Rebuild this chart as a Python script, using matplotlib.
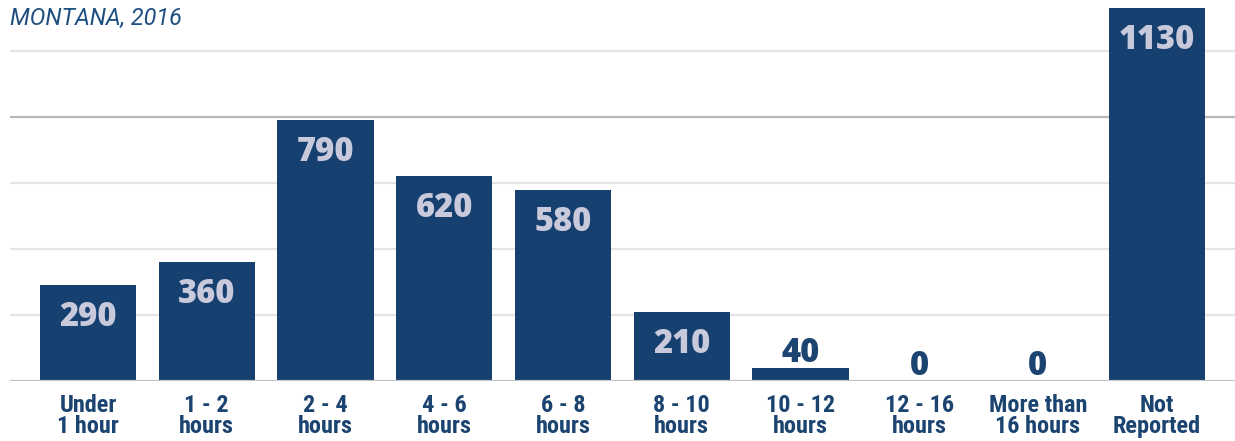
import matplotlib.pyplot as plt
import numpy as np

categories = ["Under\n1 hour", "1 - 2\nhours", "2 - 4\nhours", "4 - 6\nhours", "6 - 8\nhours",
              "8 - 10\nhours", "10 - 12\nhours", "12 - 16\nhours", "More than\n16 hours", "Not\nReported"]
values = [290, 360, 790, 620, 580, 210, 40, 0, 0, 1130]
grid_levels = [200, 400, 600, 800, 1000]

BAR = "#16406f"
LABEL_IN = "#c9c9dc"
TEXT = "#1b4470"

narrow = ["Roboto Condensed", "Archivo Narrow", "Fira Sans Condensed", "DejaVu Sans"]
heavy = ["Open Sans", "DejaVu Sans"]

fig = plt.figure(figsize=(12.35, 4.41), dpi=100)
# plot area runs from the left margin to the right edge, baseline 381 px from the top
ax = fig.add_axes([10 / 1235, (441 - 381) / 441, 1225 / 1235, 381 / 441])

x = np.arange(len(values))
ax.bar(x, values, width=0.81, color=BAR, zorder=3)

for lvl in grid_levels:
    col = "#b8b8b8" if lvl == 800 else "#e4e4e4"
    ax.axhline(lvl, color=col, linewidth=1.6, zorder=1)
ax.axhline(0, color="#c4c4c4", linewidth=1.6, zorder=4)

ax.set_xlim(-0.657, 9.66)
ax.set_ylim(0, 1154.5)

# big bars carry the value inside, short ones just above the top
for xi, v in zip(x, values):
    if v >= 150:
        ax.annotate(f"{v}", (xi, v), xytext=(0, -23), textcoords="offset points",
                    ha="center", va="center", fontsize=23.5, fontweight="heavy",
                    color=LABEL_IN, family=heavy, zorder=5)
    else:
        ax.annotate(f"{v}", (xi, v), xytext=(0, 4), textcoords="offset points",
                    ha="center", va="baseline", fontsize=23.5, fontweight="heavy",
                    color=TEXT, family=heavy, zorder=5)

ax.set_xticks(x)
ax.set_xticklabels(categories, fontsize=17.5, fontweight="bold", color=TEXT,
                   family=narrow, linespacing=0.92)
ax.tick_params(axis="x", length=0, pad=9)
ax.set_yticks([])
for s in ax.spines.values():
    s.set_visible(False)

fig.text(10 / 1235, 1 - 18 / 441, "MONTANA, 2016", fontsize=16.8, style="italic",
         color="#1f4e80", family=["Roboto", "DejaVu Sans"], va="center")

fig.savefig("out.png", dpi=100)
